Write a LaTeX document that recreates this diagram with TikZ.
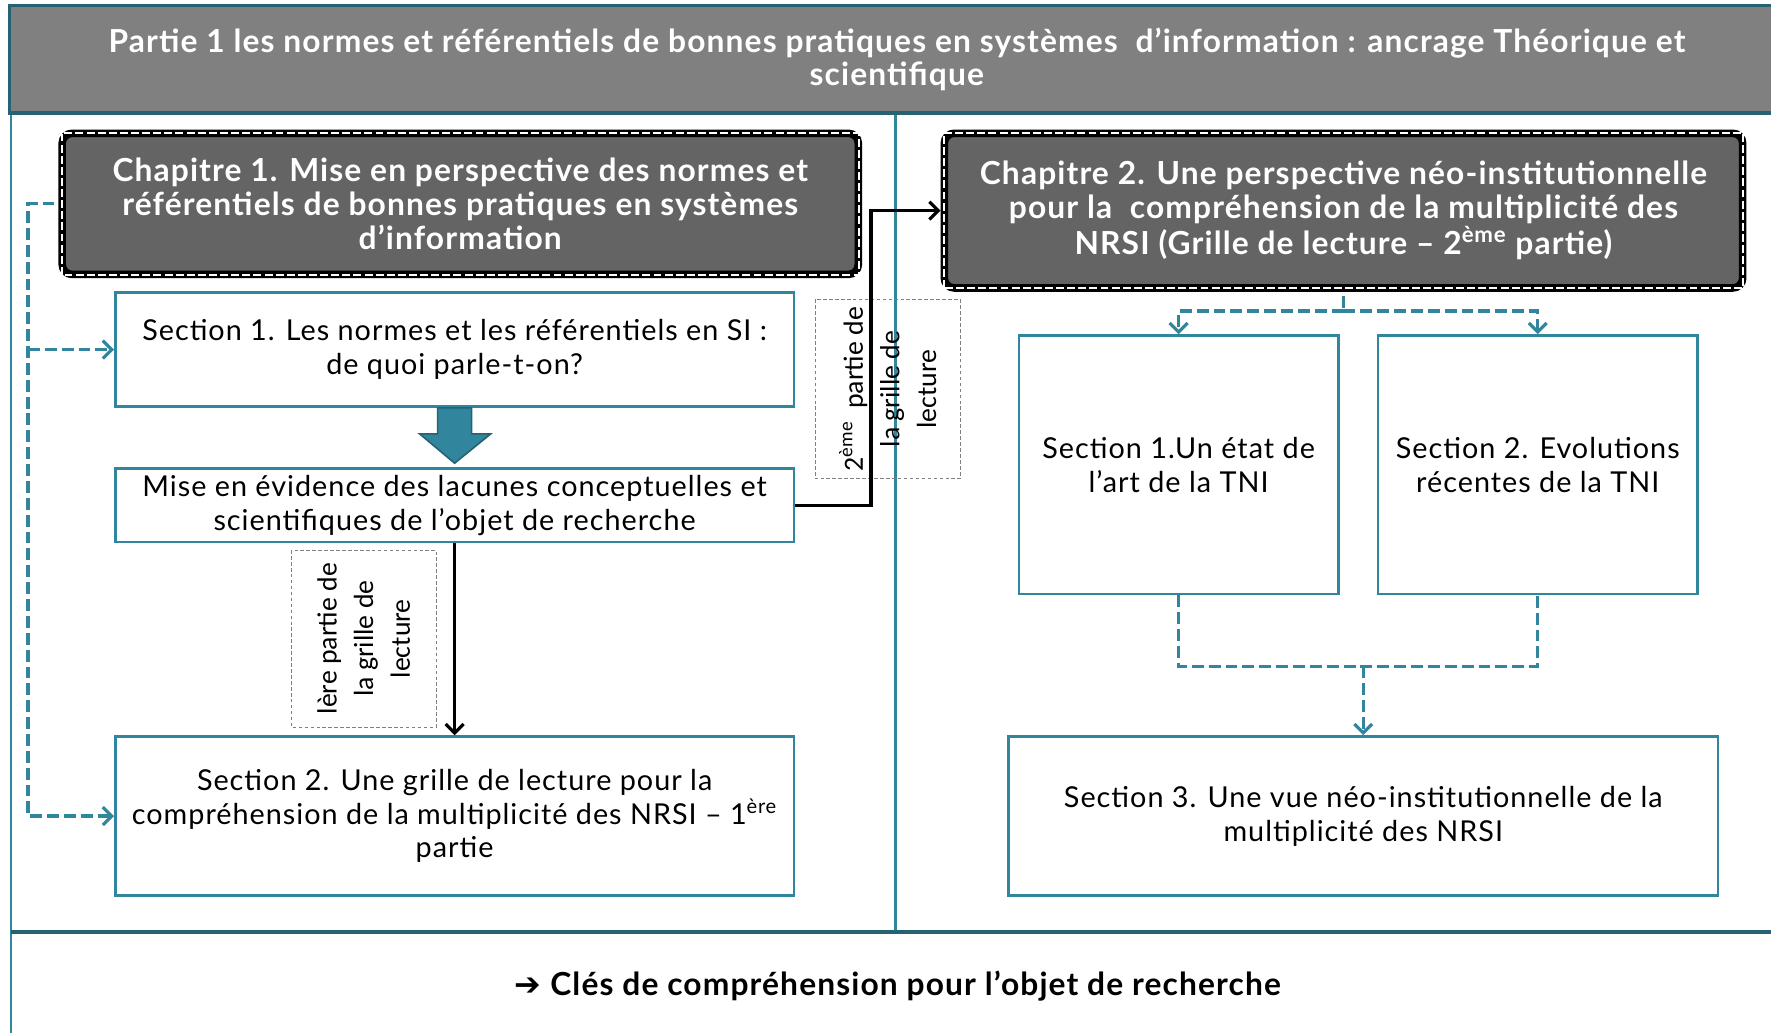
\documentclass[tikz,border=0pt]{standalone}
\usepackage{fontspec}
\setmainfont{Lato}
\newfontfamily\widefont[LetterSpace=3.5]{Lato}
\newfontfamily\calfont{Carlito}
\newfontfamily\dingfont{DejaVu Sans}
\usetikzlibrary{arrows.meta}
\definecolor{frameteal}{RGB}{49,133,156}
\definecolor{darkteal}{RGB}{38,98,113}
\definecolor{headgray}{RGB}{128,128,128}
\definecolor{chapgray}{RGB}{100,100,100}
\tikzset{
headbox/.style={draw=darkteal, line width=1.6pt, fill=headgray, text=white, align=center,
  font=\widefont\bfseries\fontsize{16}{17}\selectfont},
chapbox/.style={draw=black, line width=3.8pt, rounded corners=5pt, fill=chapgray, text=white,
  align=center, font=\widefont\bfseries\fontsize{16}{17}\selectfont},
chapdash/.style={draw=white, line width=1pt, dash pattern=on 4pt off 1.6pt},
secbox/.style={draw=frameteal, line width=1.3pt, fill=white, align=center,
  font=\widefont\fontsize{14.5}{17}\selectfont},
labbox/.style={draw=gray, line width=0.4pt, dash pattern=on 1.8pt off 1.2pt, align=center,
  font=\calfont\fontsize{14}{18.5}\selectfont},
dashlink/.style={draw=frameteal, line width=1.6pt, dash pattern=on 6pt off 2.5pt,
  -{Straight Barb[length=4.5pt,width=9pt]}},
blacklink/.style={draw=black, line width=1.6pt, -{Straight Barb[length=4.5pt,width=9pt]}}
}
\begin{document}
\begin{tikzpicture}[x=0.02cm, y=-0.02cm]
\useasboundingbox (0,0) rectangle (1568,915);

% cadre
\draw[frameteal, line width=1.2pt] (10,100) -- (10,915);
\draw[frameteal, line width=1.2pt] (793,100) -- (793,825);
\draw[darkteal, line width=2pt] (10,825) -- (1568,825);
\node[headbox, minimum width=31.44cm, minimum height=1.9cm] (head) at (794,52.5)
  {Partie 1 les normes et référentiels de bonnes pratiques en systèmes~~d’information : ancrage Théorique et\\scientifique};

% chapitre 1
\node[chapbox, minimum width=14.1cm, minimum height=2.5cm] (ch1) at (407.5,180.5)
  {Chapitre 1. Mise en perspective des normes et\\référentiels de bonnes pratiques en systèmes\\d’information};
\draw[chapdash] ([shift={(0.06cm,0.06cm)}]ch1.south west) rectangle ([shift={(-0.06cm,-0.06cm)}]ch1.north east);
\node[secbox, minimum width=12.02cm, minimum height=2.02cm] (s1L) at (402.5,309.5)
  {Section 1. Les normes et les référentiels en SI :\\de quoi parle-t-on?};
\node[secbox, minimum width=12.02cm, minimum height=1.26cm] (mise) at (402.5,447.5)
  {Mise en évidence des lacunes conceptuelles et\\scientifiques de l’objet de recherche};
\node[secbox, minimum width=12.02cm, minimum height=2.82cm] (s2L) at (402.5,722.5)
  {Section 2. Une grille de lecture pour la\\compréhension de la multiplicité des NRSI – 1\textsuperscript{ère}\\partie};
\node[labbox, rotate=90, minimum width=3.14cm, minimum height=2.56cm] (lab1) at (322,565.5)
  {lère partie de\\la grille de\\lecture};
\node[labbox, rotate=90, minimum width=3.18cm, minimum height=2.56cm] (lab2) at (786,344.5)
  {2\textsuperscript{ème}~~partie de\\la grille de\\lecture};

\draw[fill=frameteal, draw=darkteal, line width=0.8pt] ([xshift=-0.3cm]s1L.south) -- ++(0,23)
  -- ++(-16,0) -- ++(31,26) -- ++(32,-26) -- ++(-17,0) -- ++(0,-23) -- cycle;
\draw[dashlink, shorten <=2pt] (ch1.west) -- ++(-27,0) coordinate (lbend) |- (s2L.west);
\draw[dashlink] (lbend |- s1L.west) -- (s1L.west);
\draw[blacklink] (mise.south) -- (s2L.north);

% chapitre 2
\node[chapbox, minimum width=14.14cm, minimum height=2.74cm] (ch2) at (1189.5,186.5)
  {Chapitre 2. Une perspective néo-institutionnelle\\pour la~~compréhension de la multiplicité des\\NRSI (Grille de lecture – 2\textsuperscript{ème} partie)};
\draw[chapdash] ([shift={(0.06cm,0.06cm)}]ch2.south west) rectangle ([shift={(-0.06cm,-0.06cm)}]ch2.north east);
\node[secbox, minimum width=5.66cm, minimum height=4.58cm] (s1R) at (1043.5,411.5)
  {Section 1.Un état de\\l’art de la TNI};
\node[secbox, minimum width=5.66cm, minimum height=4.58cm] (s2R) at (1361.5,411.5)
  {Section 2. Evolutions\\récentes de la TNI};
\node[secbox, minimum width=12.56cm, minimum height=2.82cm] (s3R) at (1207,722.5)
  {Section 3. Une vue néo-institutionnelle de la\\multiplicité des NRSI};

\draw[blacklink] (mise.east) -- ++(67,0) |- (ch2.west);
\draw[dashlink, -, shorten <=2pt] (ch2.south) -- ++(0,17) coordinate (fan);
\draw[dashlink] (fan) -| (s1R.north);
\draw[dashlink] (fan) -| (s2R.north);
\draw[dashlink, -] (s1R.south) -- ++(0,63) coordinate (mrg) -| (s2R.south);
\draw[dashlink] (s3R.north |- mrg) -- (s3R.north);

\node[font=\widefont\bfseries\fontsize{16}{17}\selectfont] (cles) at (795,873)
  {{\dingfont ➔} Clés de compréhension pour l’objet de recherche};
\end{tikzpicture}
\end{document}
